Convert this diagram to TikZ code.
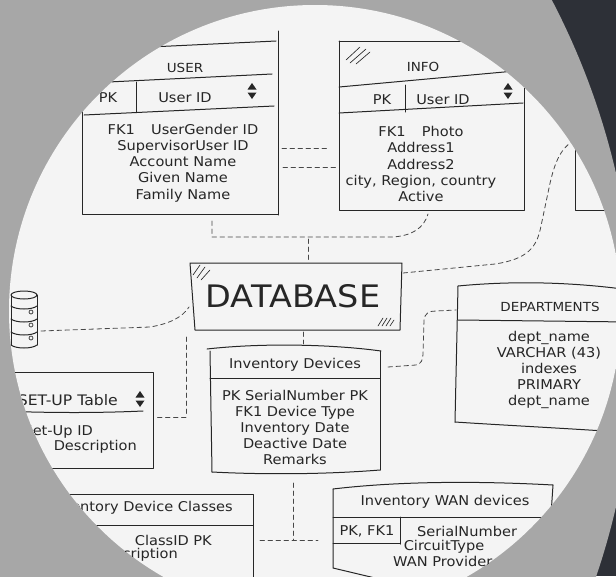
\documentclass[tikz,border=0pt]{standalone}
\usepackage{fontspec}
\setmainfont{DejaVu Sans}[FakeStretch=1.08]
\definecolor{bgdark}{HTML}{2D3037}
\definecolor{bggray}{HTML}{A7A7A7}
\definecolor{paperc}{HTML}{F4F4F4}
\definecolor{paperedge}{HTML}{E5E5E5}
\definecolor{inkc}{HTML}{262626}
\pgfdeclareradialshading{vignette}{\pgfpoint{0bp}{0bp}}{color(0bp)=(paperc); color(34bp)=(paperc); color(50bp)=(paperedge)}
\tikzset{
  inkline/.style={draw=inkc, line width=1pt, line cap=round, line join=round},
  conn/.style={draw=inkc!85, line width=0.8pt, dash pattern=on 4.5pt off 3.5pt, line cap=round},
  txt/.style={text=inkc, inner sep=0pt, align=center, font=\fontsize{13.5}{16.2}\selectfont},
  ttl/.style={txt, font=\fontsize{12.5}{15}\selectfont},
  hatchline/.style={draw=inkc, line width=0.65pt, line cap=round},
  updown/.pic={\fill[inkc] (-4.5,-1.5) -- (4.5,-1.5) -- (0,-8) -- cycle;
               \fill[inkc] (-4.5,1.5) -- (4.5,1.5) -- (0,8) -- cycle;}
}
\begin{document}
\begin{tikzpicture}[x=1pt,y=-1pt]
\useasboundingbox (0,0) rectangle (616,576);
\fill[bgdark] (0,0) rectangle (616,576);
\fill[bggray] (-100,340) circle (735pt);
\shade[shading=vignette] (315,311) circle (306pt);
\begin{scope}
\clip (315,311) circle (306pt);

% ---------------- USER
\draw[inkline] (150,47) -- (276,41);
\draw[inkline] (278,31) -- (278,215);
\draw[inkline] (88,83) -- (272,74);
\draw[inkline] (136,82) -- (136,112);
\draw[inkline] (84,115) -- (274,106);
\draw[inkline] (82,100) -- (82,214) -- (278,214);
\node[ttl] (userT) at (185,68) {USER};
\node[txt] (userPK) at (108,98) {PK};
\node[txt] (userID) at (185,98) {User ID};
\pic at (252,91) {updown};
\node[txt] (userBody) at (183,163) {FK1\hspace{1.2em}UserGender ID\\SupervisorUser ID\\Account Name\\Given Name\\Family Name};

% ---------------- INFO
\draw[inkline] (339,41) -- (480,41);
\draw[inkline] (339,41) -- (339,210) -- (524,210) -- (524,86);
\draw[inkline] (339,87) -- (515,71);
\draw[inkline] (405,85) -- (405,112);
\draw[inkline] (339,113) -- (523,103);
\draw[hatchline] (346,60) -- (360,47);
\draw[hatchline] (350,63) -- (366,49);
\draw[hatchline] (356,64) -- (370,52);
\node[ttl] (infoT) at (423,67) {INFO};
\node[txt] (infoPK) at (382,100) {PK};
\node[txt] (infoID) at (443,100) {User ID};
\pic at (508,91) {updown};
\node[txt] (infoBody) at (421,164) {FK1\hspace{1.2em}Photo\\Address1\\Address2\\city, Region, country\\Active};

% ---------------- upper right box
\draw[inkline] (630,143) -- (575,143) -- (575,210) -- (630,210);

% ---------------- connectors (top)
\coordinate (uR1) at (282,148); \coordinate (iL1) at (327,148);
\coordinate (uR2) at (283,167); \coordinate (iL2) at (339,167);
\draw[conn] (uR1) -- (iL1);
\draw[conn] (uR2) -- (iL2);
\coordinate (uB) at (212,221); \coordinate (iB) at (428,214);
\draw[conn] (uB) -- (212,237) -- (392,237) .. controls (412,236) and (424,228) .. (iB);
\coordinate (jn) at (308,239); \coordinate (dbT) at (308,262);
\draw[conn] (jn) -- (dbT);

% ---------------- DATABASE
\draw[inkline] (190,263) -- (402,263) -- (400,330) -- (195,330) -- cycle;
\node[font=\fontsize{31}{36}\selectfont, text=inkc, inner sep=0pt] (dbTxt) at (293,296) {DATABASE};
\draw[hatchline] (193,275) -- (200,265);
\draw[hatchline] (197,278) -- (205,267);
\draw[hatchline] (201,280) -- (210,270);
\draw[hatchline] (378,326) -- (383,318);
\draw[hatchline] (382,326) -- (387,318);
\draw[hatchline] (386,326) -- (391,318);
\draw[hatchline] (390,326) -- (394,320);

\coordinate (dbR) at (403,273); \coordinate (urB) at (573,141);
\draw[conn] (dbR) -- (495,264) .. controls (528,259) and (537,247) .. (541,226) -- (549,188) .. controls (554,164) and (560,149) .. (urB);

% ---------------- disk icon
\draw[inkline] (24,295) ellipse [x radius=13, y radius=4];
\draw[inkline] (37,295) -- (37,345);
\draw[inkline] (11,295) -- (11,345);
\foreach \yy in {306,319,332,345}
  \draw[inkline] (11,\yy) .. controls (16,\yy+4) and (32,\yy+4) .. (37,\yy);
\foreach \yy in {312,325,338}
  \draw[hatchline] (31,\yy) circle (2pt);
\coordinate (dkR) at (41,331); \coordinate (dbL) at (189,307);
\draw[conn] (dkR) -- (150,327) .. controls (168,324) and (182,318) .. (dbL);

% ---------------- SET-UP
\coordinate (dbBL) at (186,337); \coordinate (suR) at (157,417);
\draw[conn] (dbBL) -- (186,417) -- (suR);
\draw[inkline] (0,372) -- (153,372) -- (153,468) -- (0,468);
\draw[inkline] (0,411) .. controls (50,413) and (100,413) .. (143,411);
\node[txt, anchor=east, font=\fontsize{14.5}{16}\selectfont] (suT) at (118,400) {SET-UP Table};
\pic at (140,399) {updown};
\node[txt, anchor=east] (suID) at (93,432) {Set-Up ID};
\node[txt, anchor=east] (suDesc) at (137,447) {Description};

% ---------------- Device Classes
\draw[inkline] (0,494) -- (253,494) -- (253,580);
\draw[inkline] (0,525) -- (253,525);
\node[txt, anchor=east] (dcT) at (233,508) {Inventory Device Classes};
\node[txt, anchor=east] (dcID) at (212,540) {ClassID PK};
\node[txt, anchor=east] (dcDesc) at (178,555) {Description};

% ---------------- Inventory Devices
\draw[inkline] (207,349) .. controls (260,343) and (330,344) .. (381,351);
\draw[inkline] (210,351) -- (212,472);
\draw[inkline] (380,351) -- (380,470);
\draw[inkline] (210,378) -- (380,378);
\draw[inkline] (212,472) .. controls (270,475) and (330,474) .. (380,470);
\node[txt] (ivT) at (295,365) {Inventory Devices};
\node[txt] (ivBody) at (295,427.5) {PK SerialNumber PK\\FK1 Device Type\\Inventory Date\\Deactive Date\\Remarks};
\coordinate (dbB) at (303,332); \coordinate (ivTop) at (303,344);
\draw[conn] (dbB) -- (ivTop);

\coordinate (ivR) at (388,367); \coordinate (dpL) at (456,310);
\draw[conn] (ivR) -- (416,365) .. controls (421,364) and (423,360) .. (423,354) -- (424,320) .. controls (425,313) and (429,311) .. (436,311) -- (dpL);

% ---------------- DEPARTMENTS
\draw[inkline] (458,286) .. controls (520,280) and (580,283) .. (630,290);
\draw[inkline] (458,286) -- (455,422);
\draw[inkline] (458,320) -- (630,322);
\draw[inkline] (455,422) .. controls (500,425) and (560,428) .. (620,432);
\node[ttl] (dpT) at (550,307) {DEPARTMENTS};
\node[txt] (dpBody) at (549,370) {dept\_name\\VARCHAR (43)\\indexes\\PRIMARY\\dept\_name};

% ---------------- WAN devices
\draw[inkline] (333,489) .. controls (400,481) and (480,481) .. (553,485);
\draw[inkline] (553,485) -- (551,515);
\draw[inkline] (333,489) -- (333,568) -- (375,578);
\draw[inkline] (333,517) -- (552,517);
\draw[inkline] (400,517) -- (400,544);
\draw[inkline] (333,543) -- (400,543);
\node[txt] (wT) at (445,502) {Inventory WAN devices};
\node[txt] (wPK) at (367,531) {PK, FK1};
\node[txt, anchor=west] (wSN) at (417,531) {SerialNumber};
\node[txt] (wCT) at (444,547) {CircuitType};
\node[txt, anchor=west] (wWP) at (393,561) {WAN Provider};

\coordinate (ivB) at (293,483); \coordinate (jn2) at (293,540);
\coordinate (dcR) at (260,540); \coordinate (wL) at (318,540);
\draw[conn] (ivB) -- (jn2);
\draw[conn] (dcR) -- (wL);
\end{scope}
\end{tikzpicture}
\end{document}
